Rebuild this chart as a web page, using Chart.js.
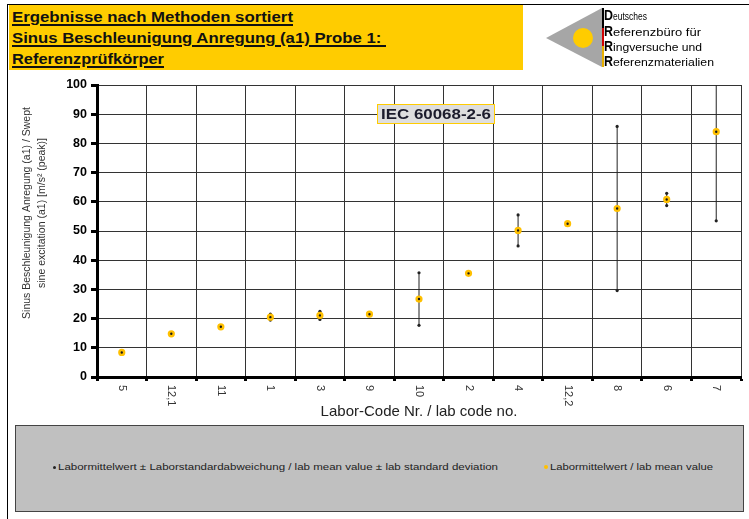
<!DOCTYPE html>
<html>
<head>
<meta charset="utf-8">
<script src="https://cdn.jsdelivr.net/npm/chart.js@4.4.1/dist/chart.umd.min.js"></script>
<style>
  html, body { margin: 0; padding: 0; background: #fff; }
  body { width: 749px; height: 519px; position: relative; overflow: hidden;
         font-family: "Liberation Sans", Arial, sans-serif; }
  #chart { position: absolute; left: 0; top: 0; }
  #frame { position: absolute; left: 7px; top: 4px; width: 760px; height: 530px;
           border-left: 1px solid #000; border-top: 1px solid #000; }
  #header { position: absolute; left: 9px; top: 5px; width: 514px; height: 65px; background: #FFCC00; }
  #header .line { position: absolute; left: 3px; font-weight: bold; font-size: 15px; color: #111;
                  text-decoration: underline; text-decoration-thickness: 2px; text-underline-offset: 2px;
                  white-space: pre; transform-origin: 0 0; }
  #logo { position: absolute; left: 530px; top: 0; }
  #iec { position: absolute; left: 377px; top: 104px; width: 118px; height: 20px; box-sizing: border-box;
         background: #DEDEDE; border: 1.5px solid #FFCC00; overflow: visible; }
  #iec span { position: absolute; left: 3px; top: 0px; font-weight: bold; font-size: 15.5px; line-height: 17px;
              color: #1C1C2C; white-space: pre; transform-origin: 0 0; }
  #legend { position: absolute; left: 15px; top: 425px; width: 729px; height: 87px; box-sizing: border-box;
            background: #C0C0C0; border: 1.5px solid #444; }
  .lg-dot { position: absolute; border-radius: 50%; }
  .lg-text { position: absolute; font-size: 9px; line-height: 10px; color: #222; white-space: pre; transform-origin: 0 0; }
</style>
</head>
<body>
<canvas id="chart" width="749" height="519"></canvas>
<div id="frame"></div>
<div id="header">
  <div class="line" style="top:3px" data-w="281">Ergebnisse nach Methoden sortiert</div>
  <div class="line" style="top:24px" data-w="374">Sinus Beschleunigung Anregung (a1) Probe 1: </div>
  <div class="line" style="top:45px" data-w="152">Referenzprüfkörper</div>
</div>
<svg id="logo" width="219" height="75" viewBox="0 0 219 75">
  <polygon points="16,38 72,8 72,67" fill="#A6A6A6"/>
  <circle cx="53" cy="38" r="10" fill="#FFCC00"/>
  <rect x="72" y="8" width="2" height="20" fill="#000"/>
  <rect x="72" y="28" width="2" height="18" fill="#D00000"/>
  <rect x="72" y="46" width="2" height="21" fill="#E8B000"/>
  <g font-family="Liberation Sans, Arial, sans-serif" fill="#000">
    <text x="74" y="20" font-size="15" font-weight="bold" textLength="9" lengthAdjust="spacingAndGlyphs">D</text>
    <text x="83" y="20" font-size="10" textLength="34" lengthAdjust="spacingAndGlyphs">eutsches</text>
    <text x="74" y="35.5" font-size="15" font-weight="bold" textLength="9" lengthAdjust="spacingAndGlyphs">R</text>
    <text x="83" y="35.5" font-size="10" textLength="88" lengthAdjust="spacingAndGlyphs">eferenzbüro für</text>
    <text x="74" y="51" font-size="15" font-weight="bold" textLength="9" lengthAdjust="spacingAndGlyphs">R</text>
    <text x="83" y="51" font-size="10" textLength="89" lengthAdjust="spacingAndGlyphs">ingversuche und</text>
    <text x="74" y="66" font-size="15" font-weight="bold" textLength="9" lengthAdjust="spacingAndGlyphs">R</text>
    <text x="83" y="66" font-size="10" textLength="101" lengthAdjust="spacingAndGlyphs">eferenzmaterialien</text>
  </g>
</svg>
<div id="iec"><span data-w="110">IEC 60068-2-6</span></div>
<div id="legend">
  <div class="lg-dot" style="left:37px;top:40px;width:3px;height:3px;background:#222"></div>
  <div class="lg-text" data-w="440" style="left:42px;top:36px">Labormittelwert ± Laborstandardabweichung / lab mean value ± lab standard deviation</div>
  <div class="lg-dot" style="left:528px;top:39px;width:4px;height:4px;background:#FFC000"></div>
  <div class="lg-text" data-w="163" style="left:534px;top:36px">Labormittelwert / lab mean value</div>
</div>

<script>
// Lab codes in the order they are plotted (sorted by mean value)
const labCodes = ['5', '12,1', '11', '1', '3', '9', '10', '2', '4', '12,2', '8', '6', '7'];
// Lab mean values, m/s² (peak)
const labMeans = [8.4, 14.8, 17.2, 20.5, 21.1, 21.5, 26.7, 35.5, 50.2, 52.5, 57.7, 60.8, 84.0];
// Lab standard deviations, m/s² (peak)
const labStdDevs = [0, 0, 0, 1.0, 1.4, 0.3, 9.0, 0.4, 5.3, 0, 28.1, 2.1, 30.5];

const yAxisMin = 0;
const yAxisMax = 100;
const yAxisStep = 10;

const xAxisTitle = 'Labor-Code Nr. / lab code no.';
const yAxisTitle = ['Sinus Beschleunigung Anregung (a1) / Swept', 'sine excitation (a1) [m/s² (peak)]'];

const FONT = '"Liberation Sans", Arial, sans-serif';

const upperValues = labMeans.map((m, i) => m + labStdDevs[i]);
const lowerValues = labMeans.map((m, i) => m - labStdDevs[i]);
const rangeValues = labMeans.map((m, i) => [lowerValues[i], upperValues[i]]);

// Stretch html text blocks horizontally to their design widths
document.querySelectorAll('[data-w]').forEach(el => {
  const w = el.getBoundingClientRect().width;
  el.style.transform = 'scaleX(' + (parseFloat(el.dataset.w) / w) + ')';
});

// Rotated category labels and the two-line value axis title
const axisText = {
  id: 'axisText',
  afterDraw(chart) {
    const { ctx, scales: { x } } = chart;
    ctx.save();
    ctx.fillStyle = '#333';
    ctx.font = '11px ' + FONT;
    ctx.textAlign = 'left';
    ctx.textBaseline = 'middle';
    labCodes.forEach((code, i) => {
      ctx.save();
      ctx.translate(x.getPixelForTick(i), x.top + 8);
      ctx.rotate(Math.PI / 2);
      ctx.fillText(code, 0, 0);
      ctx.restore();
    });
    ctx.font = '10.5px ' + FONT;
    ctx.textAlign = 'center';
    yAxisTitle.forEach((line, k) => {
      ctx.save();
      ctx.translate(27 + k * 15, 213);
      ctx.rotate(-Math.PI / 2);
      ctx.fillText(line, 0, 0);
      ctx.restore();
    });
    ctx.restore();
  }
};

new Chart(document.getElementById('chart'), {
  data: {
    labels: labCodes,
    datasets: [
      {
        type: 'line',
        label: 'Labormittelwert / lab mean value',
        data: labMeans,
        showLine: false,
        pointRadius: 2.4,
        pointBorderWidth: 2.4,
        pointBackgroundColor: '#1a1a1a',
        pointBorderColor: '#FFC000',
        order: 0
      },
      {
        type: 'line',
        label: 'upper',
        data: upperValues,
        showLine: false,
        pointRadius: 1.6,
        pointBorderWidth: 0,
        pointBackgroundColor: '#222',
        order: 1
      },
      {
        type: 'line',
        label: 'lower',
        data: lowerValues,
        showLine: false,
        pointRadius: 1.6,
        pointBorderWidth: 0,
        pointBackgroundColor: '#222',
        order: 1
      },
      {
        type: 'bar',
        label: 'Labormittelwert ± Laborstandardabweichung / lab mean value ± lab standard deviation',
        data: rangeValues,
        backgroundColor: '#222',
        barThickness: 1,
        inflateAmount: 0,
        borderWidth: 0,
        borderSkipped: false,
        order: 2
      }
    ]
  },
  options: {
    responsive: false,
    animation: false,
    events: [],
    layout: { padding: { left: 0, top: 85, right: 8, bottom: 97 } },
    plugins: { legend: { display: false }, tooltip: { enabled: false } },
    scales: {
      x: {
        type: 'category',
        offset: true,
        grid: {
          offset: true,
          color: '#333',
          lineWidth: 1,
          drawTicks: true,
          tickLength: 4,
          tickWidth: 3,
          tickColor: '#000'
        },
        border: { display: true, color: '#000', width: 3 },
        ticks: { display: false },
        title: {
          display: true,
          text: xAxisTitle,
          color: '#222',
          font: { family: FONT, size: 15 },
          padding: { top: 0, bottom: 1 }
        },
        afterFit(scale) { scale.height = 45; }
      },
      y: {
        min: yAxisMin,
        max: yAxisMax,
        ticks: {
          stepSize: yAxisStep,
          color: '#000',
          padding: 4,
          font: { family: FONT, size: 12.5, weight: 'bold' }
        },
        grid: {
          color: '#333',
          lineWidth: 1,
          tickLength: 6,
          tickWidth: 3,
          tickColor: '#000'
        },
        border: { display: true, color: '#000', width: 3 },
        afterFit(scale) { scale.width = 97; }
      }
    }
  },
  plugins: [axisText]
});
</script>
</body>
</html>
